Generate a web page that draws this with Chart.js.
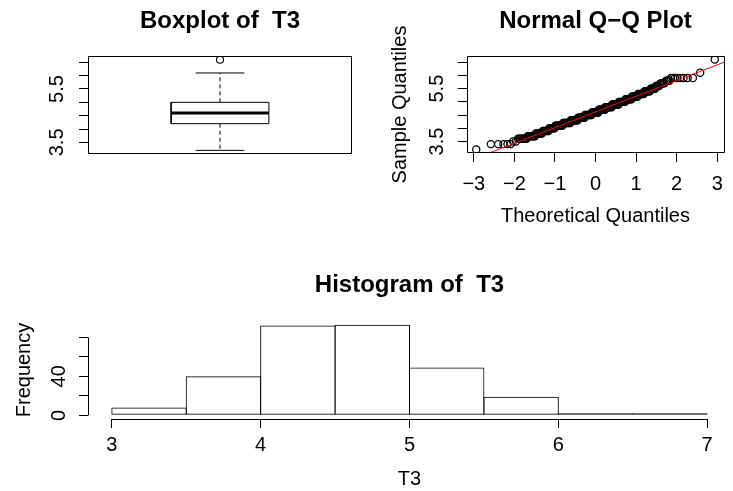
<!DOCTYPE html>
<html>
<head>
<meta charset="utf-8">
<script src="https://cdn.jsdelivr.net/npm/chart.js@4.4.1/dist/chart.umd.min.js"></script>
<style>
  html, body { margin: 0; padding: 0; background: #fff; overflow: hidden; }
  canvas { position: absolute; }
</style>
</head>
<body>
<canvas id="boxChart" width="366" height="245" style="left:0;top:0"></canvas>
<canvas id="qqChart" width="367" height="245" style="left:366px;top:0"></canvas>
<canvas id="histChart" width="733" height="246" style="left:0;top:245px"></canvas>
<script>
// Boxplot: min (whisker), Q1, median, Q3, max (whisker)
const boxStats = [3.2, 4.2, 4.6, 5.0, 6.1];
const boxOutliers = [6.6];
const yTicks = [3.5, 4, 4.5, 5, 5.5, 6, 6.5];
const yTickLabels = ['3.5', '', '', '', '5.5', '', ''];

// Q-Q plot: sample values (rounded to 0.1) and where their points sit on the theoretical axis
const qqLevels = [3.2, 3.4, 3.5, 3.6, 3.7, 3.8, 3.9, 4.0, 4.1, 4.2, 4.3, 4.4, 4.5, 4.6,
                  4.7, 4.8, 4.9, 5.0, 5.1, 5.2, 5.3, 5.4, 5.5, 5.6, 5.7, 5.8, 5.9, 6.1, 6.6];
const qqTheoretical = [
  [-2.94],
  [-2.58, -2.40, -2.27, -2.17, -2.09],
  [-2.03, -1.96],
  [-1.91, -1.88, -1.85, -1.82, -1.79, -1.76, -1.73, -1.70],
  [-1.67, -1.64, -1.61, -1.58, -1.55, -1.52, -1.49],
  [-1.47, -1.44, -1.41, -1.38, -1.35, -1.32],
  [-1.30, -1.27, -1.24, -1.21, -1.18, -1.16],
  [-1.14, -1.11, -1.08, -1.05, -1.03, -1.01],
  [-0.99, -0.97, -0.95, -0.92, -0.90, -0.88, -0.86, -0.83, -0.81],
  [-0.80, -0.78, -0.75, -0.73, -0.71, -0.69, -0.66, -0.64, -0.62],
  [-0.61, -0.59, -0.57, -0.54, -0.52, -0.50, -0.48, -0.46, -0.44],
  [-0.43, -0.41, -0.39, -0.37, -0.35, -0.33, -0.31, -0.29, -0.27],
  [-0.26, -0.24, -0.22, -0.20, -0.18, -0.16, -0.14, -0.12, -0.10],
  [-0.09, -0.07, -0.05, -0.03, -0.01, 0.01, 0.03, 0.05, 0.07],
  [0.08, 0.10, 0.12, 0.14, 0.16, 0.18, 0.20, 0.22, 0.23],
  [0.24, 0.26, 0.28, 0.30, 0.32, 0.34, 0.36, 0.38, 0.40],
  [0.41, 0.43, 0.45, 0.47, 0.49, 0.51, 0.53, 0.55, 0.57],
  [0.58, 0.60, 0.62, 0.64, 0.66, 0.68, 0.70, 0.73],
  [0.74, 0.76, 0.78, 0.80, 0.82, 0.84, 0.86, 0.89],
  [0.90, 0.92, 0.95, 0.97, 1.00, 1.02, 1.04],
  [1.05, 1.07, 1.10, 1.12, 1.15, 1.17, 1.19],
  [1.21, 1.23, 1.25, 1.28, 1.30, 1.32, 1.34],
  [1.36, 1.38, 1.40, 1.42, 1.44, 1.47],
  [1.49, 1.51, 1.53, 1.55, 1.57],
  [1.60, 1.62, 1.65, 1.67, 1.70],
  [1.74, 1.76, 1.78, 1.80, 1.82],
  [1.86, 1.91, 1.96, 2.02, 2.09, 2.17, 2.27, 2.40],
  [2.58],
  [2.94]
];
const qqLineX = [-3.3, 3.3];
const qqLineY = [2.66, 6.58];
const qqXTicks = [-3, -2, -1, 0, 1, 2, 3];
const qqXTickLabels = ['−3', '−2', '−1', '0', '1', '2', '3'];

// Histogram
const histBreaks = [3, 3.5, 4, 4.5, 5, 5.5, 6, 6.5, 7];
const histCounts = [8, 40, 92, 93, 49, 19, 1, 1];
const histXTicks = [3, 4, 5, 6, 7];
const histXTickLabels = ['3', '4', '5', '6', '7'];
const histYTicks = [0, 20, 40, 60, 80];
const histYTickLabels = ['0', '', '40', '', ''];

const FONT = "'Liberation Sans', Arial, Helvetica, sans-serif";
Chart.defaults.font.family = FONT;
Chart.defaults.color = '#000';

// R pads axis ranges by 4%
function rRange(lo, hi) {
    const d = (hi - lo) * 0.04;
    return [lo - d, hi + d];
}

// box around the plot region, or R style axis lines (first to last tick)
const rFrame = {
    id: 'rFrame',
    afterDatasetsDraw(chart, args, opts) {
        const { ctx, chartArea: a } = chart;
        ctx.save();
        ctx.strokeStyle = '#000';
        ctx.lineWidth = 1;
        ctx.beginPath();
        if (opts.box) {
            ctx.rect(Math.round(a.left) + 0.5, Math.round(a.top) + 0.5,
                Math.round(a.right - a.left) - 1, Math.round(a.bottom - a.top) - 1);
        }
        if (opts.axisLines) {
            const sx = chart.scales.x, sy = chart.scales.y;
            const yb = Math.round(a.bottom) + 0.5;
            ctx.moveTo(sx.getPixelForValue(histXTicks[0]), yb);
            ctx.lineTo(sx.getPixelForValue(histXTicks[histXTicks.length - 1]), yb);
            const xl = Math.round(a.left) + 0.5;
            ctx.moveTo(xl, sy.getPixelForValue(histYTicks[0]));
            ctx.lineTo(xl, sy.getPixelForValue(histYTicks[histYTicks.length - 1]));
        }
        ctx.stroke();
        ctx.restore();
    }
};

function yAxis(ticks, labels, range, width, pad, title) {
    return {
        type: 'linear',
        position: 'left',
        min: range[0],
        max: range[1],
        afterBuildTicks: s => { s.ticks = ticks.map(v => ({ value: v })); },
        afterFit: s => { s.width = width; },
        border: { display: false },
        grid: { drawOnChartArea: false, drawTicks: true, tickLength: 9, color: '#000' },
        ticks: {
            autoSkip: false,
            minRotation: 90,
            maxRotation: 90,
            crossAlign: 'center',
            padding: pad,
            font: { size: 20 },
            color: '#000',
            callback: (v, i) => labels[i]
        },
        title: title
    };
}

function xAxis(ticks, labels, range, height, pad, title) {
    return {
        type: 'linear',
        position: 'bottom',
        min: range[0],
        max: range[1],
        offset: false,
        afterBuildTicks: s => { s.ticks = ticks.map(v => ({ value: v })); },
        afterFit: s => { s.height = height; },
        border: { display: false },
        grid: { drawOnChartArea: false, drawTicks: true, tickLength: 9, color: '#000', offset: false },
        ticks: {
            autoSkip: false,
            maxRotation: 0,
            padding: pad,
            font: { size: 20 },
            color: '#000',
            callback: (v, i) => labels[i]
        },
        title: title
    };
}

function titleOpts(text, top, bottom) {
    return {
        display: true,
        text: text,
        fullSize: false,
        color: '#000',
        font: { size: 24, weight: 'bold', family: FONT },
        padding: { top: top, bottom: bottom }
    };
}

const yRange = rRange(boxStats[0], boxOutliers[boxOutliers.length - 1]);

// ---- Boxplot ----
const bx = [0.8, 1.2];      // box edges
const cx = [0.9, 1.1];      // whisker caps
const seg = (w, opts) => Object.assign({
    showLine: true, fill: false, borderColor: '#000', borderWidth: 1,
    pointRadius: 0, data: w
}, opts || {});

new Chart(document.getElementById('boxChart'), {
    type: 'scatter',
    data: {
        datasets: [
            seg([{ x: bx[0], y: boxStats[1] }, { x: bx[1], y: boxStats[1] }, { x: bx[1], y: boxStats[3] },
                 { x: bx[0], y: boxStats[3] }, { x: bx[0], y: boxStats[1] }]),
            seg([{ x: bx[0], y: boxStats[2] }, { x: bx[1], y: boxStats[2] }], { borderWidth: 3 }),
            seg([{ x: 1, y: boxStats[3] }, { x: 1, y: boxStats[4] }], { borderDash: [4, 3] }),
            seg([{ x: 1, y: boxStats[1] }, { x: 1, y: boxStats[0] }], { borderDash: [4, 3] }),
            seg([{ x: cx[0], y: boxStats[4] }, { x: cx[1], y: boxStats[4] }]),
            seg([{ x: cx[0], y: boxStats[0] }, { x: cx[1], y: boxStats[0] }]),
            {
                data: boxOutliers.map(v => ({ x: 1, y: v })),
                pointRadius: 3.5, pointBorderWidth: 1.1,
                borderColor: '#000', backgroundColor: 'rgba(0,0,0,0)'
            }
        ]
    },
    options: {
        responsive: false,
        animation: false,
        layout: { padding: { left: 0, top: 0, right: 14, bottom: 91 } },
        plugins: {
            legend: { display: false },
            tooltip: { enabled: false },
            title: titleOpts('Boxplot of  T3', 7, 20.2),
            rFrame: { box: true }
        },
        scales: {
            x: { type: 'linear', display: false, min: 0.46, max: 1.54 },
            y: yAxis(yTicks, yTickLabels, yRange, 88, 7.6, { display: false })
        }
    },
    plugins: [rFrame]
});

// ---- Normal Q-Q plot ----
const qqPoints = [];
qqLevels.forEach((lvl, i) => {
    qqTheoretical[i].forEach(x => qqPoints.push({ x: x, y: lvl }));
});

new Chart(document.getElementById('qqChart'), {
    type: 'scatter',
    data: {
        datasets: [
            {
                data: qqPoints,
                pointRadius: 3.6, pointBorderWidth: 1.25,
                borderColor: '#000', backgroundColor: 'rgba(0,0,0,0)',
                order: 1
            },
            {
                data: qqLineX.map((x, i) => ({ x: x, y: qqLineY[i] })),
                showLine: true, fill: false, pointRadius: 0,
                borderColor: '#ff0000', borderWidth: 1,
                order: 0
            }
        ]
    },
    options: {
        responsive: false,
        animation: false,
        layout: { padding: { left: 0, top: 0, right: 3, bottom: 0 } },
        plugins: {
            legend: { display: false },
            tooltip: { enabled: false },
            title: titleOpts('Normal Q−Q Plot', 7, 20.2),
            rFrame: { box: true }
        },
        scales: {
            x: xAxis(qqXTicks, qqXTickLabels, rRange(-2.94, 2.94), 92, 10, {
                display: true, text: 'Theoretical Quantiles', color: '#000',
                font: { size: 20 }, padding: { top: 0, bottom: 17 }
            }),
            y: yAxis(yTicks, yTickLabels, yRange, 100.7, 6.8, {
                display: true, text: 'Sample Quantiles', color: '#000',
                font: { size: 20 }, padding: { top: 22, bottom: 0 }
            })
        }
    },
    plugins: [rFrame]
});

// ---- Histogram ----
const histData = histCounts.map((c, i) => ({ x: (histBreaks[i] + histBreaks[i + 1]) / 2, y: c }));

new Chart(document.getElementById('histChart'), {
    type: 'bar',
    data: {
        datasets: [{
            data: histData,
            backgroundColor: 'rgba(0,0,0,0)',
            borderColor: '#000',
            borderWidth: 1,
            borderSkipped: false,
            inflateAmount: 0,
            minBarLength: 2,
            // a hair over 1 so neighbouring bars share one edge line, as in R
            barPercentage: 1.0134,
            categoryPercentage: 1
        }]
    },
    options: {
        responsive: false,
        animation: false,
        layout: { padding: { left: 0, top: 0, right: 2, bottom: 0 } },
        plugins: {
            legend: { display: false },
            tooltip: { enabled: false },
            title: titleOpts('Histogram of  T3', 26.4, 20.8),
            rFrame: { axisLines: true }
        },
        scales: {
            x: xAxis(histXTicks, histXTickLabels, rRange(histBreaks[0], histBreaks[histBreaks.length - 1]), 72, 5, {
                display: true, text: 'T3', color: '#000',
                font: { size: 20 }, padding: { top: 0, bottom: 0 }
            }),
            y: yAxis(histYTicks, histYTickLabels, rRange(0, Math.max(...histCounts)), 88, 8, {
                display: true, text: 'Frequency', color: '#000',
                font: { size: 20 }, padding: { top: 12, bottom: 0 }
            })
        }
    },
    plugins: [rFrame]
});
</script>
</body>
</html>
